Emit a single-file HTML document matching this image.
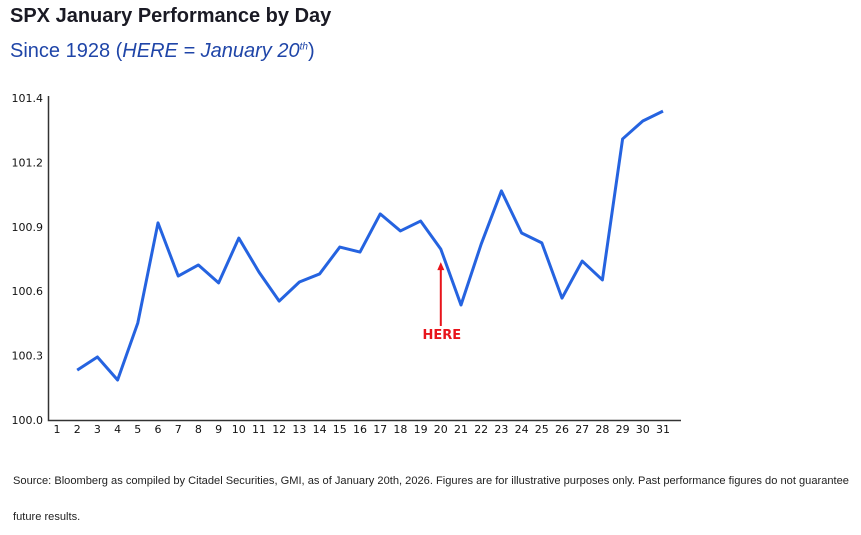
<!DOCTYPE html>
<html><head><meta charset="utf-8"><style>
body{margin:0;background:#fff;width:861px;height:521px;overflow:hidden;font-family:"Liberation Sans",sans-serif;}
#title{position:absolute;left:10px;top:5px;font-size:20px;font-weight:bold;color:#1a1a24;}
#sub{position:absolute;left:10px;top:40px;font-size:20px;color:#1f45a8;}
#src{position:absolute;left:13px;top:463px;font-size:11.1px;color:#222;line-height:36px;width:850px;}
svg{position:absolute;left:0;top:0;}
</style></head><body>
<div id="title">SPX January Performance by Day</div>
<div id="sub">Since 1928 (<i>HERE = January 20<sup style="font-size:10px">th</sup></i>)</div>
<svg width="861" height="521" id="chart"></svg>
<div id="src">Source: Bloomberg as compiled by Citadel Securities, GMI, as of January 20th, 2026. Figures are for illustrative purposes only. Past performance figures do not guarantee future results.</div>
<script>
const days=[2,3,4,5,6,7,8,9,10,11,12,13,14,15,16,17,18,19,20,21,22,23,24,25,26,27,28,29,30,31];
const values=[100.217,100.274,100.174,100.422,100.857,100.626,100.674,100.596,100.791,100.643,100.517,100.6,100.635,100.752,100.73,100.896,100.822,100.865,100.743,100.5,100.765,100.996,100.813,100.77,100.53,100.691,100.609,101.222,101.3,101.343];
const xTicks=[1,2,3,4,5,6,7,8,9,10,11,12,13,14,15,16,17,18,19,20,21,22,23,24,25,26,27,28,29,30,31];
const yTickLabels=["100.0","100.3","100.6","100.9","101.2","101.4"];
const yMin=100,yMax=101.4;
const hereDay=20;
const NS="http://www.w3.org/2000/svg";
const svg=document.getElementById('chart');
const xs=d=>57+(d-1)*(663-57)/30;
const ys=v=>420-(v-yMin)/(yMax-yMin)*322;
function mk(t,a){const e=document.createElementNS(NS,t);for(const k in a)e.setAttribute(k,a[k]);svg.appendChild(e);return e;}
let el=mk('path',{d:'M48.5 96 V420.5 H681',stroke:'#333',fill:'none','stroke-width':1.5});


yTickLabels.forEach((l,i)=>{const t=mk('text',{x:43,y:420-i*322/5+4,'text-anchor':'end','font-size':11,fill:'#111','font-family':'DejaVu Sans, sans-serif'});t.textContent=l;

});
xTicks.forEach(d=>{const t=mk('text',{x:xs(d),y:433,'text-anchor':'middle','font-size':11,fill:'#111','font-family':'DejaVu Sans, sans-serif'});t.textContent=d;

});
const pts=days.map((d,i)=>xs(d)+','+ys(values[i])).join(' ');
el=mk('polyline',{points:pts,fill:'none',stroke:'#2563e0','stroke-width':3,'stroke-linejoin':'round'});


const hv=values[days.indexOf(hereDay)];
const hx=xs(hereDay),arrowTop=ys(hv)+13;
el=mk('line',{x1:hx,y1:arrowTop+6,x2:hx,y2:326,stroke:'#e8141b','stroke-width':2});


el=mk('path',{d:`M${hx-3.5} ${arrowTop+8} L${hx} ${arrowTop} L${hx+3.5} ${arrowTop+8} Z`,fill:'#e8141b'});


el=mk('text',{x:hx+1,y:339,'text-anchor':'middle','font-size':13,'font-weight':'bold',fill:'#e8141b','font-family':'DejaVu Sans, sans-serif'});el.textContent='HERE';


</script>
</body></html>
